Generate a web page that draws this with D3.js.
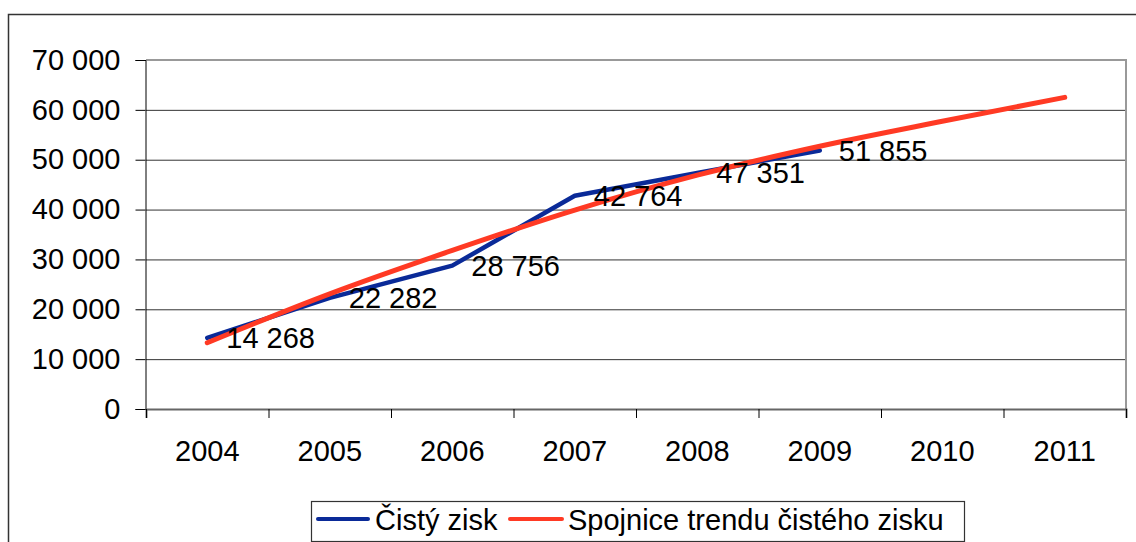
<!DOCTYPE html>
<html>
<head>
<meta charset="utf-8">
<script src="https://cdn.jsdelivr.net/npm/d3@7"></script>
<style>
    body { margin: 0; background: #fff; }
    svg text { font-family: "Liberation Sans", Arial, sans-serif; fill: #000; }
</style>
</head>
<body>
<div id="chart"></div>
<script>
const years = ["2004", "2005", "2006", "2007", "2008", "2009", "2010", "2011"];
const profit = [14268, 22282, 28756, 42764, 47351, 51855];
const trend = [13300, 23100, 31800, 39900, 46900, 52700, 57700, 62500];
const y_ticks = [0, 10000, 20000, 30000, 40000, 50000, 60000, 70000];
const series_names = ["Čistý zisk", "Spojnice trendu čistého zisku"];

const svg_width = 1136, svg_height = 542;
const plot = {left: 146, top: 60, right: 1126, bottom: 409};
const blue = "#0a2a98", red = "#ff3a24";
const font_size = 29;

const fmt = v => d3.format(",")(v).replace(/,/g, " ");

let svg = d3.select("#chart").append("svg")
    .attr("width", svg_width)
    .attr("height", svg_height);

// outer frame
svg.append("rect")
    .attr("x", 8.5).attr("y", 14.5)
    .attr("width", svg_width + 20).attr("height", svg_height + 20)
    .attr("fill", "none")
    .attr("stroke", "#333")
    .attr("stroke-width", 1.5);

let x = d3.scaleBand()
    .domain(years)
    .range([plot.left, plot.right]);
let x_edges = d3.scaleLinear()
    .domain([0, years.length])
    .range([plot.left, plot.right]);
let y = d3.scaleLinear()
    .domain([0, 70000])
    .range([plot.bottom, plot.top]);

// grid lines
svg.append("g")
    .attr("transform", "translate(" + plot.left + ",0)")
    .call(d3.axisLeft(y)
        .tickValues(y_ticks.filter(v => v > 0 && v < 70000))
        .tickSize(-(plot.right - plot.left))
        .tickFormat(""))
    .call(g => g.select(".domain").remove())
    .call(g => g.selectAll("line").attr("stroke", "#333").attr("stroke-width", 1));

// plot frame top/right
svg.append("path")
    .attr("d", "M" + plot.left + "," + plot.top + "H" + plot.right + "V" + plot.bottom)
    .attr("fill", "none")
    .attr("stroke", "#999")
    .attr("stroke-width", 2);

// y axis
svg.append("g")
    .attr("transform", "translate(" + (plot.left - 0.5) + ",0)")
    .call(d3.axisLeft(y)
        .tickValues(y_ticks)
        .tickSize(10)
        .tickPadding(15)
        .tickFormat(fmt))
    .call(g => g.select(".domain").attr("stroke", "#000"))
    .call(g => g.selectAll("line").attr("stroke", "#000"))
    .call(g => g.selectAll("text")
        .attr("font-size", font_size)
        .attr("font-family", "Liberation Sans, Arial, sans-serif"));

// x axis tick marks at band edges
svg.append("g")
    .attr("transform", "translate(0," + plot.bottom + ")")
    .call(d3.axisBottom(x_edges)
        .tickValues(d3.range(years.length + 1))
        .tickSize(9)
        .tickFormat(""))
    .call(g => g.select(".domain").attr("stroke", "#666").attr("stroke-width", 2))
    .call(g => g.selectAll("line").attr("stroke", "#000"));

// x labels
svg.append("g")
    .attr("transform", "translate(0," + plot.bottom + ")")
    .call(d3.axisBottom(x).tickSize(0).tickPadding(31))
    .call(g => g.select(".domain").remove())
    .call(g => g.selectAll("text")
        .attr("font-size", font_size)
        .attr("font-family", "Liberation Sans, Arial, sans-serif"));

const cx = d => x(d) + x.bandwidth() / 2;

svg.append("path")
    .datum(profit)
    .attr("fill", "none")
    .attr("stroke", blue)
    .attr("stroke-width", 4.5)
    .attr("stroke-linejoin", "round")
    .attr("stroke-linecap", "round")
    .attr("d", d3.line()
        .x((_, i) => cx(years[i]))
        .y(v => y(v)));

svg.append("path")
    .datum(trend)
    .attr("fill", "none")
    .attr("stroke", red)
    .attr("stroke-width", 5)
    .attr("stroke-linecap", "round")
    .attr("d", d3.line()
        .x((_, i) => cx(years[i]))
        .y(v => y(v))
        .curve(d3.curveMonotoneX));

svg.append("g")
    .selectAll("text")
    .data(profit)
    .join("text")
    .attr("x", (_, i) => cx(years[i]) + 19)
    .attr("y", v => y(v))
    .attr("dy", "0.35em")
    .attr("font-size", font_size)
    .text(fmt);

// legend
let legend = svg.append("g");
legend.append("rect")
    .attr("x", 311.5).attr("y", 501.5)
    .attr("width", 653).attr("height", 40)
    .attr("fill", "#fff")
    .attr("stroke", "#333")
    .attr("stroke-width", 1.2);
const legend_items = [
    {color: blue, x0: 318, x1: 368, tx: 375},
    {color: red, x0: 510, x1: 562, tx: 568}
];
legend_items.forEach((it, i) => {
    legend.append("line")
        .attr("x1", it.x0).attr("x2", it.x1)
        .attr("y1", 519).attr("y2", 519)
        .attr("stroke", it.color)
        .attr("stroke-width", 4)
        .attr("stroke-linecap", "round");
    legend.append("text")
        .attr("x", it.tx).attr("y", 530)
        .attr("font-size", font_size)
        .text(series_names[i]);
});
</script>
</body>
</html>
